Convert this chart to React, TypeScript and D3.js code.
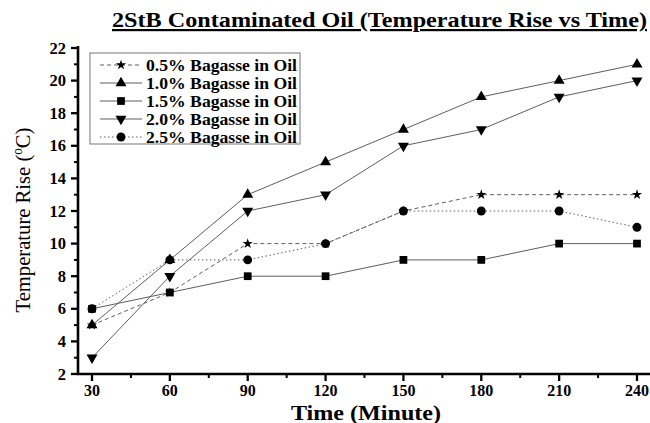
import React from "react";
import * as d3 from "d3";

const times = [30, 60, 90, 120, 150, 180, 210, 240];
const s05 = [5, 7, 10, 10, 12, 13, 13, 13];
const s10 = [5, 9, 13, 15, 17, 19, 20, 21];
const s15 = [6, 7, 8, 8, 9, 9, 10, 10];
const s20 = [3, 8, 12, 13, 16, 17, 19, 20];
const s25 = [6, 9, 9, 10, 12, 12, 12, 11];
const seriesNames = [
  "0.5% Bagasse in Oil",
  "1.0% Bagasse in Oil",
  "1.5% Bagasse in Oil",
  "2.0% Bagasse in Oil",
  "2.5% Bagasse in Oil",
];
const xTicks = [30, 60, 90, 120, 150, 180, 210, 240];
const xMinor = [45, 75, 105, 135, 165, 195, 225];
const yTicks = [2, 4, 6, 8, 10, 12, 14, 16, 18, 20, 22];
const yMinor = [3, 5, 7, 9, 11, 13, 15, 17, 19, 21];

const FONT = "Liberation Serif, DejaVu Serif, Times New Roman, serif";

type Sym = { type: d3.SymbolType; size: number; rot: number };
const symbols: Sym[] = [
  { type: d3.symbolStar, size: 32, rot: 0 },
  { type: d3.symbolTriangle, size: 52, rot: 0 },
  { type: d3.symbolSquare, size: 60, rot: 0 },
  { type: d3.symbolTriangle, size: 52, rot: 180 },
  { type: d3.symbolCircle, size: 62, rot: 0 },
];
const dashes = ["4,3", "none", "none", "none", "1.5,2.5"];
const drawOrder = [1, 0, 4, 2, 3];

export default function App() {
  const W = 650, H = 423;
  const x = d3.scaleLinear().domain([30, 240]).range([92, 637]);
  const y = d3.scaleLinear().domain([2, 22]).range([374, 48]);
  const xLeft = 78, xRight = 650;
  const data = [s05, s10, s15, s20, s25];
  const line = d3.line<number>().x((_, i) => x(times[i])).y((v) => y(v));

  const sym = (s: Sym) => d3.symbol().type(s.type).size(s.size)() as string;

  const legX = 90, legY = 53, legW = 210, legH = 91;
  const rowY = (i: number) => 65 + i * 18;
  const tf = { fontFamily: FONT };

  return (
    <svg width={W} height={H} style={{ position: "absolute", left: 0, top: 0, background: "#fff", fontFamily: FONT }}>
      <rect width={W} height={H} fill="#fff" />
      {/* title */}
      <text x={112} y={27} style={tf} fontWeight="bold" fontSize={22} textLength={535}
        lengthAdjust="spacingAndGlyphs" textDecoration="underline">2StB Contaminated Oil (Temperature Rise vs Time)</text>

      {/* series lines */}
      {data.map((d, k) => (
        <path key={"l" + k} d={line(d) as string} fill="none" stroke="#5e5e5e" strokeWidth={1}
          strokeDasharray={dashes[k]} />
      ))}
      {/* markers */}
      {drawOrder.map((k) =>
        data[k].map((v, i) => (
          <path key={"m" + k + "-" + i} d={sym(symbols[k])}
            transform={`translate(${x(times[i])},${y(v)}) rotate(${symbols[k].rot})`} fill="#000" />
        ))
      )}

      {/* axes */}
      <line x1={xLeft} x2={xLeft} y1={46} y2={375} stroke="#000" strokeWidth={2.6} />
      <line x1={xLeft - 1} x2={xRight} y1={y(2)} y2={y(2)} stroke="#000" strokeWidth={2.6} />
      {yTicks.map((t) => (
        <g key={"yt" + t}>
          <line x1={xLeft - 7} x2={xLeft} y1={y(t)} y2={y(t)} stroke="#000" strokeWidth={2.3} />
          <text x={xLeft - 12} y={y(t) + 5.5} textAnchor="end" style={tf} fontWeight="bold" fontSize={16.5}>{t}</text>
        </g>
      ))}
      {yMinor.map((t) => (
        <line key={"ym" + t} x1={xLeft - 4} x2={xLeft} y1={y(t)} y2={y(t)} stroke="#000" strokeWidth={2} />
      ))}
      {xTicks.map((t) => (
        <g key={"xt" + t}>
          <line x1={x(t)} x2={x(t)} y1={y(2)} y2={y(2) + 7} stroke="#000" strokeWidth={2.3} />
          <text x={x(t)} y={396} textAnchor="middle" style={tf} fontWeight="bold" fontSize={16}>{t}</text>
        </g>
      ))}
      {xMinor.map((t) => (
        <line key={"xm" + t} x1={x(t)} x2={x(t)} y1={y(2)} y2={y(2) + 4} stroke="#000" strokeWidth={2} />
      ))}

      {/* axis labels */}
      <text x={366} y={420} textAnchor="middle" style={tf} fontWeight="bold" fontSize={20}
        textLength={150} lengthAdjust="spacingAndGlyphs">Time (Minute)</text>
      <text transform={`translate(30,${220}) rotate(-90)`} textAnchor="middle" style={tf} fontSize={22}
        textLength={185} lengthAdjust="spacingAndGlyphs">
        Temperature Rise (<tspan fontSize={14} dy={-8}>o</tspan><tspan dy={8}>C)</tspan>
      </text>

      {/* legend */}
      <rect x={legX} y={legY} width={legW} height={legH} fill="#fff" stroke="#777" strokeWidth={1} />
      {seriesNames.map((n, k) => (
        <g key={"lg" + k}>
          <line x1={100} x2={142} y1={rowY(k)} y2={rowY(k)} stroke="#5e5e5e" strokeWidth={1}
            strokeDasharray={dashes[k]} />
          <path d={sym(symbols[k])} transform={`translate(121,${rowY(k)}) rotate(${symbols[k].rot})`} fill="#000" />
          <text x={146} y={rowY(k) + 5.5} style={tf} fontWeight="bold" fontSize={16.5}
            textLength={151} lengthAdjust="spacingAndGlyphs">{n}</text>
        </g>
      ))}
    </svg>
  );
}
